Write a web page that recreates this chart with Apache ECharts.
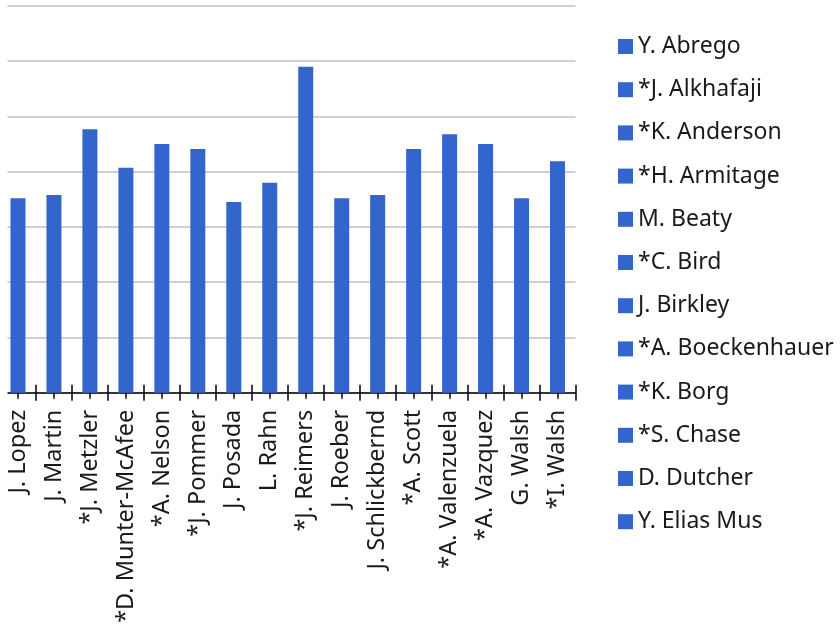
<!DOCTYPE html>
<html><head><meta charset="utf-8">
<script src="https://cdn.jsdelivr.net/npm/echarts@6/dist/echarts.min.js"></script>
<style>html,body{margin:0;padding:0;background:#fff}#c{width:840px;height:635px}</style>
</head><body><div id="c"></div>
<script>
const categories = ["J. Lopez","J. Martin","*J. Metzler","*D. Munter-McAfee","*A. Nelson","*J. Pommer","J. Posada","L. Rahn","*J. Reimers","J. Roeber","J. Schlickbernd","*A. Scott","*A. Valenzuela","*A. Vazquez","G. Walsh","*I. Walsh"];
const values = [35.2,35.8,47.7,40.7,45.0,44.1,34.5,38.0,59.0,35.2,35.8,44.1,46.8,45.0,35.2,41.9];
const legendNames = ["Y. Abrego","*J. Alkhafaji","*K. Anderson","*H. Armitage","M. Beaty","*C. Bird","J. Birkley","*A. Boeckenhauer","*K. Borg","*S. Chase","D. Dutcher","Y. Elias Mus"];
const yMin = 0, yMax = 70, yStep = 10;

const BLUE = '#3366cc';
const FONT = 'Noto Sans';
const chart = echarts.init(document.getElementById('c'), null, {renderer:'canvas'});

function tickAxis(align, inside, len, showLine, showLabel) {
  return {
    type:'category', data:categories, position:'bottom', boundaryGap:true,
    axisLine:{show:showLine, lineStyle:{color:'#000', width:1.5}},
    axisTick:{show:true, alignWithLabel:align, inside:inside, length:len, lineStyle:{color:'#000', width:1.5}},
    axisLabel:{show:showLabel, rotate:90, margin:17, fontFamily:FONT, fontSize:23.5, color:'#1a1a1a', interval:0},
    splitLine:{show:false}
  };
}

const series = [{
  name:'main', type:'bar', stack:'s', data:values, barWidth:15,
  itemStyle:{color:BLUE}, silent:true
}].concat(legendNames.map(n => ({name:n, type:'bar', stack:'s', data:[], itemStyle:{color:BLUE}})));

chart.setOption({
  animation:false,
  grid:{left:-3.7, right:840-575.5, top:6, bottom:635-392.7, containLabel:false},
  xAxis:[
    tickAxis(false,false,8,true,true),
    tickAxis(false,true,8,false,false),
    tickAxis(true,false,6,false,false),
    tickAxis(true,true,4,false,false)
  ],
  yAxis:{type:'value', min:yMin, max:yMax, interval:yStep,
    axisLine:{show:false}, axisTick:{show:false}, axisLabel:{show:false},
    splitLine:{show:true, lineStyle:{color:'#c0c0c0', width:1.5}}},
  legend:{orient:'vertical', left:618, top:35, padding:0, data:legendNames, icon:'rect',
    itemWidth:15, itemHeight:15, itemGap:20.2, selectedMode:false,
    textStyle:{fontFamily:FONT, fontSize:23, color:'#1a1a1a', lineHeight:23}},
  graphic:[{type:'rect', left:0, top:0, z:100, shape:{x:0,y:0,width:7.5,height:403}, style:{fill:'#fff'}}],
  series:series
});
</script></body></html>
